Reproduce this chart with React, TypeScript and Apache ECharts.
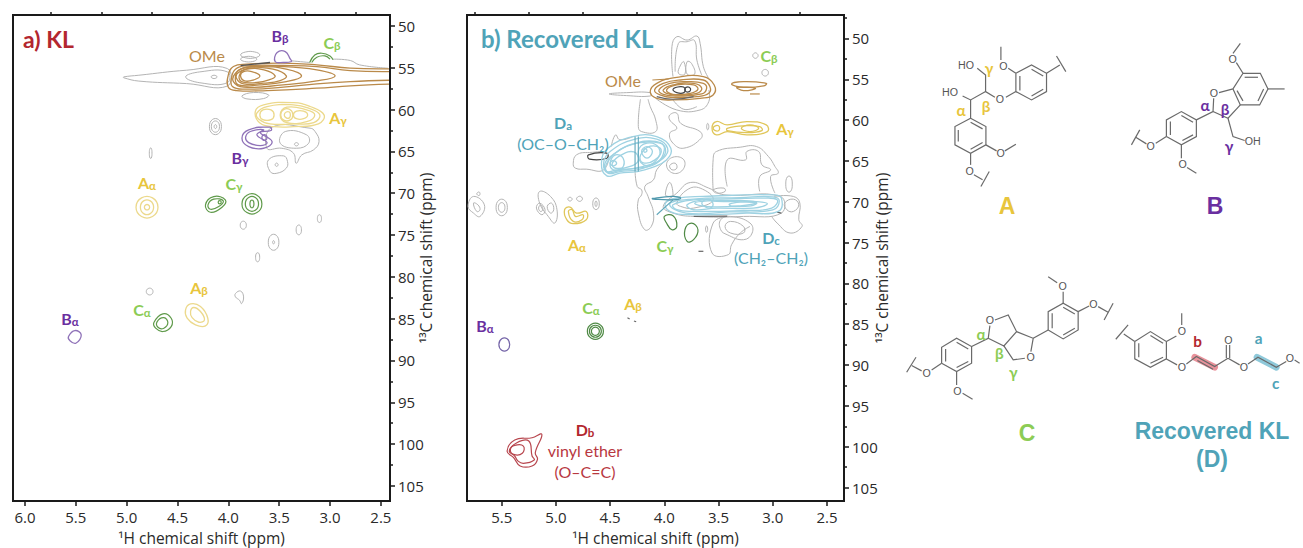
import React, { useEffect, useRef } from "react";
import * as echarts from "echarts";

type P = number[][];

// tick labels
const klXTicks = [6, 5.5, 5, 4.5, 4, 3.5, 3, 2.5];
const klXMinor = [5.75, 5.25, 4.75, 4.25, 3.75, 3.25, 2.75];
const recXTicks = [5.5, 5, 4.5, 4, 3.5, 3, 2.5];
const recXMinor = [5.75, 5.25, 4.75, 4.25, 3.75, 3.25, 2.75];
const yTicks = [50, 55, 60, 65, 70, 75, 80, 85, 90, 95, 100, 105];
const yMinor = [52.5, 57.5, 62.5, 67.5, 72.5, 77.5, 82.5, 87.5, 92.5, 97.5, 102.5];
const recYMinor = [47.5, ...yMinor];

// KL panel contours, [1H ppm, 13C ppm]
const klBrownOpen: P[] = [
  [[2.42,55.14],[2.80,55.06],[3.13,54.66],[3.46,54.46],[3.82,54.58],[3.95,54.86],[4.0,55.86],[4.0,57.33],[3.92,57.73],[3.62,57.73],[3.13,57.45],[2.80,57.17],[2.42,56.97]],
  [[2.42,55.46],[2.80,55.34],[3.13,54.86],[3.46,54.74],[3.82,54.78],[3.93,55.18],[3.97,56.26],[3.96,57.25],[3.85,57.57],[3.46,57.33],[3.13,56.93],[2.80,56.66],[2.42,56.5]],
];
const klBrown: P[] = [
  [[2.95,55.98],[3.13,55.26],[3.46,54.86],[3.82,54.94],[3.93,55.66],[3.95,56.66],[3.85,57.33],[3.46,57.05],[3.13,56.58]],
  [[3.28,55.98],[3.43,55.18],[3.69,54.86],[3.88,55.18],[3.93,56.06],[3.90,57.05],[3.69,57.05],[3.43,56.66]],
  [[3.43,55.98],[3.56,55.18],[3.78,55.06],[3.90,55.58],[3.92,56.26],[3.85,56.93],[3.65,56.85],[3.49,56.54]],
  [[3.54,55.98],[3.65,55.26],[3.82,55.18],[3.89,55.86],[3.87,56.66],[3.72,56.77],[3.60,56.46]],
  [[3.69,55.98],[3.77,55.46],[3.85,55.46],[3.88,55.98],[3.84,56.58],[3.75,56.46]],
];
const klGrey: P[] = [
  [[5.03,56.1],[4.88,55.9],[4.41,55.3],[4.01,55.1],[4.01,57.2],[4.41,56.9],[4.88,56.6],[5.03,56.2]],
  [[4.42,56.1],[4.28,55.5],[4.01,55.5],[4.01,56.8],[4.28,56.8]],
  [[4.17,56.1],[4.14,55.9],[4.11,56.1],[4.14,56.3]],
  [[3.88,53.47],[3.83,53.12],[3.74,53.12],[3.69,53.47],[3.74,53.82],[3.83,53.82]],
  [[3.88,53.98],[3.84,53.7],[3.76,53.7],[3.72,53.98],[3.76,54.26],[3.84,54.26]],
  [[3.866,58.37],[3.751,57.97],[3.604,58.25],[3.653,58.69],[3.817,58.73]],
  [[3.57,62.11],[3.196,62.23],[3.147,62.63],[3.108,63.83],[3.163,64.83],[3.277,65.42],[3.333,66.42],[3.359,65.22],[3.474,64.63],[3.621,64.63]],
  [[3.44,62.63],[3.23,63.03],[3.21,64.03],[3.33,64.63],[3.49,64.03]],
  [[3.35,64.15],[3.33,63.95],[3.31,64.15],[3.33,64.35]],
  [[3.605,66.02],[3.457,65.54],[3.418,66.22],[3.431,67.02],[3.523,67.62],[3.588,67.42]],
  [[3.54,66.6],[3.525,66.4],[3.51,66.6],[3.525,66.8]],
  [[4.186,62.04],[4.157,61.2],[4.097,61.2],[4.068,62.04],[4.097,62.88],[4.157,62.88]],
  [[4.167,62.04],[4.147,61.45],[4.107,61.45],[4.087,62.04],[4.107,62.63],[4.147,62.63]],
  [[4.14,62.04],[4.127,61.8],[4.114,62.04],[4.127,62.28]],
  [[4.777,65.22],[4.77,64.63],[4.758,64.63],[4.751,65.22],[4.758,65.81],[4.77,65.81]],
  [[3.883,73.83],[3.868,73.41],[3.838,73.41],[3.823,73.83],[3.838,74.25],[3.868,74.25]],
  [[3.333,74.39],[3.32,73.87],[3.294,73.87],[3.281,74.39],[3.294,74.91],[3.32,74.91]],
  [[3.124,73.04],[3.114,72.62],[3.094,72.62],[3.084,73.04],[3.094,73.46],[3.114,73.46]],
  [[3.607,75.87],[3.581,75.03],[3.529,75.03],[3.503,75.87],[3.529,76.71],[3.581,76.71]],
  [[3.565,75.87],[3.555,75.67],[3.545,75.87],[3.555,76.07]],
  [[3.732,77.66],[3.722,77.17],[3.702,77.17],[3.692,77.66],[3.702,78.15],[3.722,78.15]],
  [[4.807,81.76],[4.79,81.41],[4.757,81.41],[4.741,81.76],[4.757,82.11],[4.79,82.11]],
  [[3.93,82.0],[3.88,81.7],[3.85,82.4],[3.87,83.2],[3.89,82.8],[3.93,82.4]],
];
const klGreyOpen: P[] = [
  [[3.38,54.18],[3.2,54.38]],
  [[2.97,53.98],[2.8,54.14],[2.71,54.66],[2.43,55.06]],
];
const klDark: P[] = [[[3.88,54.74],[3.59,54.38]]];
const klYellow: P[] = [
  [[3.735,60.24],[3.653,59.44],[3.359,59.17],[3.196,59.64],[3.059,60.64],[3.114,61.72],[3.359,62.04],[3.555,62.04],[3.686,61.64]],
  [[3.72,60.44],[3.62,59.64],[3.36,59.44],[3.21,59.84],[3.10,60.64],[3.16,61.56],[3.36,61.72],[3.59,61.72],[3.70,61.16]],
  [[3.69,60.64],[3.66,60.05],[3.58,60.05],[3.55,60.64],[3.58,61.2],[3.66,61.2]],
  [[3.49,60.64],[3.425,59.72],[3.23,60.04],[3.15,60.64],[3.23,61.44],[3.425,61.56]],
  [[3.485,60.64],[3.455,60.0],[3.395,60.0],[3.365,60.64],[3.395,61.27],[3.455,61.27]],
  [[3.45,60.64],[3.43,60.3],[3.40,60.3],[3.39,60.64],[3.40,61.0],[3.43,61.0]],
  [[3.36,60.64],[3.33,60.2],[3.26,60.2],[3.22,60.64],[3.26,61.1],[3.33,61.1]],
  [[4.908,71.68],[4.854,70.57],[4.746,70.57],[4.692,71.68],[4.746,72.79],[4.854,72.79]],
  [[4.865,71.68],[4.833,70.92],[4.768,70.92],[4.735,71.68],[4.768,72.44],[4.833,72.44]],
  [[4.826,71.68],[4.813,71.4],[4.787,71.4],[4.774,71.68],[4.787,71.96],[4.813,71.96]],
  [[4.421,83.95],[4.372,83.24],[4.274,83.55],[4.202,84.95],[4.225,85.87],[4.323,85.75],[4.405,84.95]],
  [[4.372,84.15],[4.34,83.67],[4.274,84.15],[4.235,85.15],[4.29,85.43],[4.356,84.87]],
];
const klPurple: P[] = [
  [[3.54,54.26],[3.52,53.19],[3.44,53.07],[3.39,53.98],[3.38,54.26],[3.46,54.38]],
  [[3.866,63.43],[3.80,62.43],[3.59,62.11],[3.58,62.51],[3.686,62.75],[3.57,63.83],[3.653,64.63],[3.80,64.43]],
  [[3.83,63.31],[3.784,62.63],[3.653,62.43],[3.719,63.03],[3.62,63.95],[3.686,64.31],[3.80,63.95]],
  [[3.67,63.35],[3.66,63.07],[3.63,63.07],[3.62,63.35],[3.63,63.63],[3.66,63.63]],
  [[5.572,87.14],[5.51,86.42],[5.447,86.94],[5.50,87.94],[5.559,87.62]],
];
const klGreenOpen: P[] = [
  [[3.20,54.38],[3.15,53.47],[3.08,53.27],[3.0,53.59],[2.97,54.06]],
  [[3.18,54.38],[3.13,53.75],[3.05,53.59],[3.0,53.98]],
];
const klGreen: P[] = [
  [[4.225,71.4],[4.144,70.41],[4.03,70.8],[4.062,71.68],[4.176,72.28]],
  [[4.20,71.4],[4.144,70.72],[4.05,70.92],[4.094,71.6],[4.176,71.92]],
  [[4.10,71.08],[4.085,70.9],[4.07,71.08],[4.085,71.28]],
  [[3.866,71.28],[3.817,70.24],[3.719,70.24],[3.67,71.28],[3.719,72.32],[3.817,72.32]],
  [[3.833,71.28],[3.80,70.52],[3.735,70.52],[3.703,71.28],[3.735,72.04],[3.80,72.04]],
  [[3.788,71.28],[3.778,70.87],[3.758,70.87],[3.748,71.28],[3.758,71.69],[3.778,71.69]],
  [[4.732,85.47],[4.644,84.43],[4.562,84.95],[4.562,85.95],[4.644,86.54],[4.715,86.14]],
  [[4.70,85.35],[4.634,84.87],[4.595,85.47],[4.634,86.14],[4.692,86.03]],
];

// Recovered KL panel contours, [1H ppm, 13C ppm]
const recGreyOpen: P[] = [
  [[3.92,54.68],[3.93,51.01],[3.885,49.79],[3.79,50.2],[3.70,49.71],[3.67,50.61],[3.64,53.46],[3.59,54.89]],
  [[3.90,54.07],[3.87,50.61],[3.79,50.4],[3.72,50.28],[3.70,52.65],[3.655,54.48]],
  [[4.08,57.33],[3.885,58.76],[3.67,58.76],[3.59,57.74],[3.59,56.31]],
  [[3.92,57.53],[3.82,58.68],[3.70,58.35]],
  [[4.22,57.45],[4.24,60.79],[4.21,61.41],[4.08,61.41],[4.08,59.98],[4.13,58.35],[4.15,57.45]],
  [[4.49,63.24],[4.45,61.81],[4.41,62.42],[4.29,62.02]],
  [[4.27,66.09],[4.25,68.13],[4.21,68.54],[4.21,69.15],[4.24,69.76],[4.24,71.39],[4.18,73.43],[4.12,73.02],[4.10,71.39],[4.15,69.35],[4.18,68.13],[4.10,67.32],[4.07,66.09],[3.98,64.87]],
  [[3.55,68.54],[3.55,64.87],[3.52,63.85],[3.30,63.32],[3.15,63.24],[3.04,64.46],[2.98,65.68],[2.95,66.5],[3.02,66.91],[2.98,68.94]],
  [[3.42,68.13],[3.42,64.87],[3.25,64.87],[3.24,63.85],[3.13,63.85],[3.10,65.48],[3.02,66.09],[3.12,66.91],[3.12,68.74]],
  [[2.99,69.35],[2.81,69.35],[2.75,70.17],[2.76,72.2],[2.73,73.02],[2.84,73.83],[2.96,72.61],[3.01,71.8]],
  [[3.42,71.8],[3.55,72.61],[3.56,76.28],[3.41,76.48],[3.38,75.26],[3.30,73.83],[3.21,73.02]],
];
const recGrey: P[] = [
  [[3.87,54.27],[3.85,53.26],[3.82,52.85],[3.81,54.36]],
  [[3.79,54.36],[3.79,52.85],[3.75,53.05],[3.72,54.36]],
  [[4.51,56.8],[4.35,56.64],[4.13,56.64],[4.13,57.05],[4.35,57.0]],
  [[3.185,52.1],[3.17,51.8],[3.15,51.8],[3.135,52.1],[3.15,52.4],[3.17,52.4]],
  [[3.10,54.19],[3.085,53.85],[3.055,53.85],[3.04,54.19],[3.055,54.55],[3.085,54.55]],
  [[3.95,59.37],[3.885,59.16],[3.85,60.39],[3.67,61.41],[3.66,62.22],[3.82,63.44],[3.92,62.83],[3.95,61.61],[3.885,61.0],[3.95,59.98]],
  [[3.61,60.79],[3.60,60.4],[3.59,60.79],[3.60,61.2]],
  [[4.84,65.28],[4.81,64.26],[4.69,63.97],[4.53,64.14],[4.56,66.09],[4.72,66.01],[4.82,65.89]],
  [[3.98,65.48],[3.92,64.54],[3.82,64.87],[3.83,66.09],[3.92,66.5]],
  [[3.95,65.56],[3.90,65.28],[3.885,65.89],[3.93,66.09]],
  [[4.01,70.57],[3.885,68.94],[3.76,67.64],[3.59,68.33],[3.45,69.15],[2.93,69.35],[2.92,71.39],[3.27,71.8],[3.73,71.8],[3.92,71.39]],
  [[3.885,70.17],[3.79,68.54],[3.67,68.33],[3.55,69.76],[3.73,70.78],[3.85,70.57]],
  [[2.89,70.17],[2.81,69.68],[2.76,70.37],[2.81,71.19],[2.87,70.98]],
  [[3.48,72.2],[3.39,71.8],[3.21,72.61],[3.19,73.83],[3.27,74.65],[3.42,74.04],[3.48,73.43]],
  [[3.44,73.02],[3.39,72.41],[3.27,73.02],[3.27,73.83],[3.39,73.83]],
  [[2.88,67.84],[2.865,66.95],[2.835,66.95],[2.82,67.84],[2.835,68.73],[2.865,68.73]],
  [[3.99,69.15],[3.95,67.64],[3.92,69.15],[3.95,69.35]],
  [[3.55,68.54],[3.45,68.33],[3.44,68.74],[3.52,68.94]],
  [[5.81,70.57],[5.76,69.35],[5.66,70.37],[5.70,71.8],[5.76,71.39]],
  [[5.76,70.17],[5.72,70.37],[5.70,70.98],[5.73,71.19]],
  [[5.73,69.02],[5.71,68.8],[5.70,69.02],[5.71,69.25]],
  [[5.552,70.7],[5.526,69.81],[5.474,69.81],[5.448,70.7],[5.474,71.59],[5.526,71.59]],
  [[5.53,70.7],[5.515,70.18],[5.485,70.18],[5.47,70.7],[5.485,71.22],[5.515,71.22]],
  [[5.18,70.78],[5.15,70.17],[5.10,70.98],[5.13,71.59]],
  [[5.16,70.78],[5.14,70.4],[5.12,70.9],[5.14,71.2]],
  [[5.15,68.74],[5.05,69.35],[4.99,70.98],[5.01,72.61],[5.07,71.8],[5.15,70.17]],
  [[5.08,70.57],[5.04,70.17],[5.02,70.98],[5.05,71.39]],
  [[4.89,69.68],[4.87,69.45],[4.85,69.68],[4.87,69.92]],
  [[4.81,69.64],[4.78,69.32],[4.755,69.64],[4.78,69.96]],
  [[4.66,70.25],[4.645,69.62],[4.615,69.62],[4.60,70.25],[4.615,70.88],[4.645,70.88]],
  [[4.64,70.25],[4.63,69.9],[4.62,70.25],[4.63,70.6]],
  [[3.62,73.35],[3.61,72.95],[3.60,73.35],[3.61,73.75]],
];
const recDarkOpen: P[] = [
  [[4.07,57.13],[3.92,57.45],[3.73,57.13]],
  [[3.685,76.07],[3.64,76.07]],
  [[3.73,71.8],[3.42,71.75]],
  [[2.96,71.27],[2.92,71.39]],
  [[4.34,84.2],[4.32,84.35]],
  [[4.28,84.6],[4.26,84.7]],
];
const recDark: P[] = [
  [[3.92,56.23],[3.85,55.9],[3.81,56.11],[3.82,56.64],[3.885,56.64]],
  [[3.80,55.99],[3.76,56.11],[3.77,56.52],[3.81,56.39]],
  [[4.70,64.26],[4.53,64.05],[4.53,64.67],[4.69,64.79]],
];
const recBrown: P[] = [
  [[4.13,56.52],[4.07,55.5],[3.885,54.76],[3.64,54.68],[3.54,55.7],[3.55,56.92],[3.67,57.33],[3.92,57.53],[4.07,57.33]],
  [[4.09,56.31],[4.01,55.5],[3.85,55.09],[3.64,55.09],[3.58,55.9],[3.59,56.72],[3.70,57.13],[3.92,57.25],[4.04,56.92]],
  [[4.05,56.31],[3.95,55.5],[3.79,55.29],[3.64,55.5],[3.61,56.11],[3.655,56.8],[3.885,57.05],[4.01,56.84]],
  [[4.01,56.31],[3.92,55.7],[3.73,55.5],[3.655,56.11],[3.70,56.72],[3.885,56.92],[3.98,56.72]],
  [[3.98,56.31],[3.885,55.7],[3.73,55.7],[3.69,56.23],[3.76,56.72],[3.92,56.84]],
  [[3.38,55.58],[3.27,55.29],[3.06,55.5],[3.085,55.82],[3.27,55.99]],
  [[3.33,55.99],[3.16,56.11],[3.27,56.39]],
];
const recBrownOpen: P[] = [
  [[4.11,55.09],[3.96,54.97]],
  [[3.21,56.8],[3.12,56.8]],
];
const recYellow: P[] = [
  [[3.56,61.0],[3.52,60.18],[3.42,60.59],[3.24,60.18],[3.06,60.59],[3.05,61.41],[3.24,61.81],[3.42,61.41],[3.52,61.81]],
  [[3.42,61.0],[3.27,60.71],[3.12,60.79],[3.10,61.28],[3.24,61.53],[3.42,61.28]],
  [[3.55,61.0],[3.53,60.7],[3.50,60.7],[3.49,61.0],[3.50,61.3],[3.53,61.3]],
  [[3.29,61.0],[3.21,60.59],[3.13,61.0],[3.21,61.41]],
  [[4.92,70.98],[4.87,70.65],[4.81,71.39],[4.72,71.19],[4.72,72.2],[4.84,72.69],[4.90,72.2]],
  [[4.885,71.19],[4.85,70.98],[4.82,71.8],[4.75,71.59],[4.76,72.2],[4.84,72.41]],
];
const recBlueLight: P[] = [
  [[4.58,65.28],[4.52,63.44],[4.29,62.02],[4.07,62.02],[3.94,63.44],[3.98,64.87],[4.13,65.89],[4.25,66.3],[4.41,66.5],[4.53,66.83]],
  [[4.56,65.28],[4.50,63.85],[4.27,62.34],[4.07,62.34],[3.97,63.44],[4.01,64.67],[4.15,65.68],[4.25,66.09],[4.41,66.3],[4.52,66.5]],
  [[4.55,65.4],[4.47,64.2],[4.30,63.0],[4.08,62.6],[3.99,63.5],[4.04,64.9],[4.2,65.7],[4.42,66.2],[4.52,66.4]],
  [[4.53,65.28],[4.41,63.65],[4.25,62.83],[4.04,62.83],[4.0,63.65],[4.07,65.28],[4.25,65.89],[4.44,66.09],[4.53,66.3]],
  [[4.50,65.28],[4.45,64.26],[4.38,64.67],[4.39,65.89],[4.47,66.09]],
  [[4.48,65.3],[4.40,64.3],[4.28,63.9],[4.24,64.9],[4.30,65.6],[4.45,65.9]],
  [[4.50,65.28],[4.47,64.95],[4.44,65.28],[4.47,65.6]],
  [[4.24,63.85],[4.16,62.83],[4.05,63.44],[4.07,64.87],[4.19,65.48]],
  [[4.22,64.3],[4.13,63.2],[4.03,63.6],[4.09,64.9],[4.2,65.2]],
  [[4.21,63.85],[4.16,63.24],[4.11,63.85],[4.16,64.67]],
  [[4.19,63.73],[4.18,63.5],[4.16,63.73],[4.18,63.95]],
  [[3.99,70.17],[3.885,69.56],[3.64,69.35],[2.99,69.15],[2.92,69.56],[2.95,71.19],[3.24,71.39],[3.76,71.59],[3.95,71.19]],
  [[3.95,70.3],[3.76,69.7],[3.3,69.5],[3.0,69.4],[2.94,69.9],[3.0,71.0],[3.4,71.25],[3.8,71.4]],
  [[3.92,70.37],[3.73,69.76],[3.48,69.68],[3.12,69.56],[2.96,69.76],[3.01,70.78],[3.27,71.07],[3.73,71.19],[3.885,70.98]],
  [[3.79,70.37],[3.64,69.76],[3.52,69.96],[3.18,69.96],[3.05,70.25],[3.18,70.78],[3.52,70.78],[3.73,70.98]],
  [[3.72,70.2],[3.6,69.9],[3.3,69.85],[3.15,70.1],[3.3,70.5],[3.6,70.6]],
  [[3.4,70.3],[3.3,70.05],[3.15,70.15],[3.2,70.5],[3.38,70.55]],
  [[3.655,70.17],[3.59,69.68],[3.55,70.37],[3.59,70.78]],
];
const recTealOpen: P[] = [
  [[4.27,62.02],[4.27,66.3]],
  [[4.24,62.02],[4.24,66.3]],
  [[4.07,71.59],[3.92,69.76]],
];
const recTeal: P[] = [[[4.11,69.6],[3.92,69.35],[3.85,69.56],[3.92,69.76],[4.10,69.68]]];
const recPurple: P[] = [[[5.526,87.49],[5.50,86.79],[5.45,86.79],[5.426,87.49],[5.45,88.19],[5.50,88.19]]];
const recGreen: P[] = [
  [[4.0,71.8],[3.92,71.72],[3.885,73.02],[3.93,73.43],[3.98,72.61]],
  [[3.81,73.43],[3.75,72.61],[3.69,73.43],[3.73,74.65],[3.79,74.85]],
  [[4.71,85.86],[4.673,85.01],[4.599,85.01],[4.562,85.86],[4.599,86.71],[4.673,86.71]],
  [[4.691,85.86],[4.664,85.23],[4.608,85.23],[4.581,85.86],[4.608,86.49],[4.664,86.49]],
  [[4.673,85.86],[4.655,85.43],[4.617,85.43],[4.599,85.86],[4.617,86.29],[4.655,86.29]],
];
const recRed: P[] = [
  [[5.45,100.53],[5.38,99.18],[5.22,98.9],[5.13,98.49],[5.19,100.73],[5.17,101.55],[5.22,102.36],[5.33,102.36],[5.39,101.34]],
  [[5.43,100.53],[5.36,99.51],[5.25,99.3],[5.22,101.14],[5.20,101.63],[5.30,102.04],[5.35,101.75],[5.38,101.14]],
  [[5.42,100.32],[5.38,99.84],[5.30,99.92],[5.31,100.81],[5.39,100.94]],
];

// chemical structures
const bondsA: number[][] = [
  [348,160,395,135,440,160,440,215,395,240,348,215,348,160],[395,148,430,168],[430,208,395,228],[360,212,360,168],
  [440,160,480,135],[470,108,498,155],[348,160,325,145],[303,120,303,80],[348,215,318,232],[285,232,257,215,257,165,232,145],
  [257,215,212,240,188,228],[212,240,212,295],[212,295,258,320,258,375,212,400,165,375,165,320,212,295],
  [175,365,175,330],[212,307,248,327],[248,368,212,388],[258,375,290,393],[315,393,348,373],[212,400,212,435],[222,465,248,480],[268,455,243,500],
];
const bondsB: number[][] = [
  [800,350,800,300,845,275,890,300,890,350,845,375,800,350],[812,345,812,305],[845,287,880,307],[880,345,848,362],
  [890,300,940,275,942,235],[958,218,1000,207],[940,275,985,295,1022,255],[1000,207,1030,160,1082,160,1105,207,1080,255,1022,255,1000,207],
  [1035,172,1075,172],[1092,207,1075,243],[1030,243,1012,212],[1030,160,1010,128],[1000,100,1022,70],[1105,207,1155,207],
  [985,295,1000,350,1035,362],[800,350,768,370],[740,372,708,352],[720,330,695,375],[845,375,845,415],[862,443,890,460],
];
const bondsC: number[][] = [
  [125,310,125,262,170,235,215,260,215,310,170,335,125,310],[137,305,137,267],[170,247,205,267],[205,305,170,323],
  [215,260,265,235,270,197],[285,180,325,165,350,215,312,258,265,235],[350,215,400,235,393,275],[375,295,340,300,312,258],
  [400,235,445,210],[445,210,445,155,490,130,535,155,535,210,490,237,445,210],[457,205,457,160],[490,142,525,162],[525,205,490,225],
  [490,130,490,95],[472,68,445,50],[535,155,568,138],[595,140,625,157],[640,130,613,180],[125,310,95,330],[65,333,35,317],[48,292,20,337],
  [170,335,170,375],[188,400,218,418],
];
const bondsD: number[][] = [
  [705,245,752,215,800,245,800,297,752,322,705,297,705,245],[717,292,717,250],[752,227,790,250],[790,292,752,310],
  [705,245,672,222],[685,195,648,238],[800,245,830,228],[846,195,846,160],[800,297,832,315],[860,312,890,290,945,320,985,295],
  [893,302,940,328],[980,295,980,255],[990,295,990,255],[985,295,1020,315],[1045,312,1075,292,1130,322,1160,305],[1185,300,1200,310],
];
const highlightRed = [885, 292, 945, 322];
const highlightBlue = [1072, 292, 1130, 322];
const atomsAB: [string, number, number][] = [
  ["O", 310, 137],["O", 300, 238],["HO", 198, 135],["HO", 150, 215],["O", 302, 398],["O", 209, 453],
  ["O", 942, 220],["O", 998, 117],["OH", 1058, 362],["O", 752, 378],["O", 848, 433],
];
const atomsCD: [string, number, number][] = [
  ["O", 270, 180],["O", 392, 290],["O", 488, 78],["O", 580, 132],["O", 80, 340],["O", 172, 393],
  ["O", 846, 213],["O", 846, 320],["O", 985, 240],["O", 1032, 320],["O", 1170, 293],
];

const YEL = "#e8c53c";
const PUR = "#6a2fa0";
const GRN = "#8ccc55";
const TEAL = "#4fa3b8";
const RED = "#b3272f";
const BRN = "#ba8a4a";

function seriesOf(paths: P[], color: string, width: number, ax: number, closed = true) {
  return paths.map((p) => ({
    type: "custom",
    coordinateSystem: "cartesian2d",
    xAxisIndex: ax,
    yAxisIndex: ax,
    data: p,
    encode: { x: 0, y: 1 },
    silent: true,
    clip: true,
    renderItem: (params: any, api: any) => {
      if (params.dataIndex !== 0) return null;
      const points = p.map((q) => api.coord(q));
      return {
        type: closed ? "polygon" : "polyline",
        shape: { points, smooth: 0.45 },
        style: { fill: "none", stroke: color, lineWidth: width },
      };
    },
  }));
}

function label(x: number, y: number, main: string, sub: string, fill: string, size = 16) {
  return {
    type: "text",
    x,
    y,
    z: 50,
    style: {
      text: sub ? `{m|${main}}{s|${sub}}` : main,
      fill,
      font: `bold ${size}px Lato`,
      align: "center",
      verticalAlign: "middle",
      textAlign: "center",
      textVerticalAlign: "middle",
      rich: {
        m: { fill, fontFamily: "Lato", fontWeight: "bold", fontSize: size },
        s: { fill, fontFamily: "Lato", fontWeight: "bold", fontSize: size * 0.72, padding: [size * 0.4, 0, 0, 0] },
      },
    },
  };
}

function plain(x: number, y: number, text: string, fill: string, font: string, align = "center") {
  return { type: "text", x, y, z: 50, style: { text, fill, font, align, verticalAlign: "middle", textAlign: align, textVerticalAlign: "middle" } };
}

function structure(x: number, y: number, bonds: number[][], atoms: [string, number, number][], extra: any[]) {
  const pts = (b: number[]) => {
    const out: number[][] = [];
    for (let i = 0; i < b.length; i += 2) out.push([b[i], b[i + 1]]);
    return out;
  };
  return {
    type: "group",
    x,
    y,
    scaleX: 1 / 3,
    scaleY: 1 / 3,
    children: [
      ...extra.filter((e) => e.hl).map((e) => ({
        type: "polyline",
        shape: { points: pts(e.hl) },
        style: { stroke: e.color, lineWidth: 20, lineCap: "round", fill: "none" },
      })),
      ...bonds.map((b) => ({
        type: "polyline",
        shape: { points: pts(b) },
        style: { stroke: "#6a6a6a", lineWidth: 3.6, fill: "none" },
      })),
      ...atoms.map(([t, ax, ay]) => plain(ax, ay, t, "#555", "32px 'Liberation Sans'")),
      ...extra.filter((e) => e.t).map((e) => plain(e.x, e.y, e.t, e.color, `bold ${e.s || 46}px Lato`)),
    ],
  };
}

function axisPair(base: any, major: number[], minor: number[], fmt: (v: number) => string, name: string, gap: number, rotate: number) {
  return [
    {
      ...base,
      type: "value",
      name,
      nameLocation: "middle",
      nameGap: gap,
      nameRotate: rotate,
      nameMoveOverlap: false,
      nameTextStyle: { color: "#2a2a2a", fontFamily: "Open Sans", fontSize: 15.5 },
      axisLine: { show: true, onZero: false, lineStyle: { color: "#1a1a1a", width: 2 } },
      axisTick: { show: true, length: 5, customValues: major, lineStyle: { color: "#1a1a1a", width: 1.5 } },
      axisLabel: { show: true, customValues: major, formatter: fmt, color: "#2a2a2a", fontFamily: "Open Sans", fontSize: 15, margin: 8 },
      splitLine: { show: false },
    },
    {
      ...base,
      type: "value",
      axisLine: { show: false, onZero: false },
      axisTick: { show: true, length: 3, customValues: minor, lineStyle: { color: "#1a1a1a", width: 1.5 } },
      axisLabel: { show: false },
      splitLine: { show: false },
    },
  ];
}

const H_NAME = "¹H chemical shift (ppm)";
const C_NAME = "¹³C chemical shift (ppm)";

export default function App() {
  const ref = useRef<HTMLDivElement>(null);
  useEffect(() => {
    document.body.style.margin = "0";
    const chart = echarts.init(ref.current!, null, { renderer: "svg" });
    const grey = "#b4b4b4";
    const series = [
      ...seriesOf(klGrey, grey, 1, 0),
      ...seriesOf(klGreyOpen, grey, 1, 0, false),
      ...seriesOf(klBrownOpen, BRN, 1.3, 0, false),
      ...seriesOf(klBrown, BRN, 1.3, 0),
      ...seriesOf(klDark, "#555", 1.3, 0, false),
      ...seriesOf(klYellow, "#ecd98c", 1.3, 0),
      ...seriesOf(klPurple, "#8f72b8", 1.3, 0),
      ...seriesOf(klGreenOpen, "#5f9a4a", 1.2, 0, false),
      ...seriesOf(klGreen, "#5f9a4a", 1.2, 0),
      ...seriesOf(recGreyOpen, grey, 1, 2, false),
      ...seriesOf(recGrey, grey, 1, 2),
      ...seriesOf(recBrownOpen, BRN, 1.2, 2, false),
      ...seriesOf(recBrown, BRN, 1.3, 2),
      ...seriesOf(recDark, "#444", 1.2, 2),
      ...seriesOf(recDarkOpen, "#666", 1.2, 2, false),
      ...seriesOf(recYellow, "#e0c659", 1.3, 2),
      ...seriesOf(recBlueLight, "#9ed2e2", 1.3, 2),
      ...seriesOf(recTealOpen, "#5fa6ba", 1.1, 2, false),
      ...seriesOf(recTeal, "#4f98ad", 1.3, 2),
      ...seriesOf(recPurple, "#7565a8", 1.2, 2),
      ...seriesOf(recGreen, "#4f8a45", 1.2, 2),
      ...seriesOf(recRed, "#b8474f", 1.2, 2),
    ];
    const fx = (v: number) => v.toFixed(1);
    const fy = (v: number) => String(v);
    const klX = { gridIndex: 0, min: 2.41, max: 6.118, inverse: true };
    const recX = { gridIndex: 1, min: 2.343, max: 5.82, inverse: true };
    const klY = { gridIndex: 0, min: 48.7, max: 106.8, inverse: true, position: "right" };
    const recY = { gridIndex: 1, min: 47.13, max: 106.65, inverse: true, position: "right" };
    chart.setOption({
      animation: false,
      backgroundColor: "#fff",
      grid: [
        { left: 13, top: 15, width: 377, height: 486, show: true, borderColor: "#1a1a1a", borderWidth: 2, backgroundColor: "transparent", outerBoundsMode: "none" },
        { left: 467, top: 15, width: 377, height: 486, show: true, borderColor: "#1a1a1a", borderWidth: 2, backgroundColor: "transparent", outerBoundsMode: "none" },
      ],
      xAxis: [
        ...axisPair(klX, klXTicks, klXMinor, fx, H_NAME, 29, 0),
        ...axisPair(recX, recXTicks, recXMinor, fx, H_NAME, 29, 0),
      ],
      yAxis: [
        ...axisPair(klY, yTicks, yMinor, fy, C_NAME, 28, 90),
        ...axisPair(recY, yTicks, recYMinor, fy, C_NAME, 30, 90),
      ],
      series,
      graphic: [
        plain(23, 39, "a) KL", RED, "bold 23px Lato", "left"),
        plain(207, 55, "OMe", BRN, "16px Lato"),
        label(280, 35, "B", "β", PUR),
        label(332, 42, "C", "β", GRN),
        label(338, 117, "A", "γ", YEL),
        label(240, 157, "B", "γ", PUR),
        label(147, 182, "A", "α", YEL),
        label(234, 183, "C", "γ", GRN),
        label(199, 287, "A", "β", YEL),
        label(142, 309, "C", "α", GRN),
        label(70, 318, "B", "α", PUR),
        plain(481, 38, "b) Recovered KL", TEAL, "bold 24px Lato", "left"),
        plain(623, 80, "OMe", BRN, "16px Lato"),
        label(769, 55, "C", "β", GRN),
        label(785, 128, "A", "γ", YEL),
        label(563, 122, "D", "a", TEAL),
        plain(563, 143, "(OC–O–CH₂)", TEAL, "16px Lato"),
        label(577, 244, "A", "α", YEL),
        label(665, 245, "C", "γ", GRN),
        label(771, 237, "D", "c", TEAL),
        plain(771, 257, "(CH₂–CH₂)", TEAL, "16px Lato"),
        label(485, 325, "B", "α", PUR),
        label(591, 307, "C", "α", GRN),
        label(633, 303, "A", "β", YEL),
        label(585, 429, "D", "b", RED),
        plain(585, 450, "vinyl ether", "#b8383f", "16px Lato"),
        plain(585, 471, "(O–C=C)", "#b8383f", "16px Lato"),
        structure(900, 20, [...bondsA, ...bondsB], atomsAB, [
          { t: "γ", x: 267, y: 143, color: YEL },
          { t: "α", x: 183, y: 270, color: YEL },
          { t: "β", x: 258, y: 257, color: YEL },
          { t: "α", x: 915, y: 255, color: PUR },
          { t: "β", x: 975, y: 267, color: PUR },
          { t: "γ", x: 987, y: 378, color: PUR },
        ]),
        structure(900, 260, [...bondsC, ...bondsD], atomsCD, [
          { hl: highlightRed, color: "#e9929b" },
          { hl: highlightBlue, color: "#8fc9da" },
          { t: "α", x: 243, y: 222, color: GRN },
          { t: "β", x: 298, y: 280, color: GRN },
          { t: "γ", x: 340, y: 335, color: GRN },
          { t: "b", x: 893, y: 242, color: RED },
          { t: "a", x: 1076, y: 233, color: TEAL },
          { t: "c", x: 1127, y: 368, color: TEAL },
        ]),
        plain(1007, 206, "A", YEL, "bold 23px 'Liberation Sans'"),
        plain(1215, 206, "B", PUR, "bold 23px 'Liberation Sans'"),
        plain(1027, 433, "C", GRN, "bold 23px 'Liberation Sans'"),
        plain(1212, 431, "Recovered KL", TEAL, "bold 23px 'Liberation Sans'"),
        plain(1212, 459, "(D)", TEAL, "bold 23px 'Liberation Sans'"),
      ],
    });
    return () => chart.dispose();
  }, []);
  return <div ref={ref} style={{ position: "fixed", left: 0, top: 0, width: 1303, height: 548, background: "#fff" }} />;
}
